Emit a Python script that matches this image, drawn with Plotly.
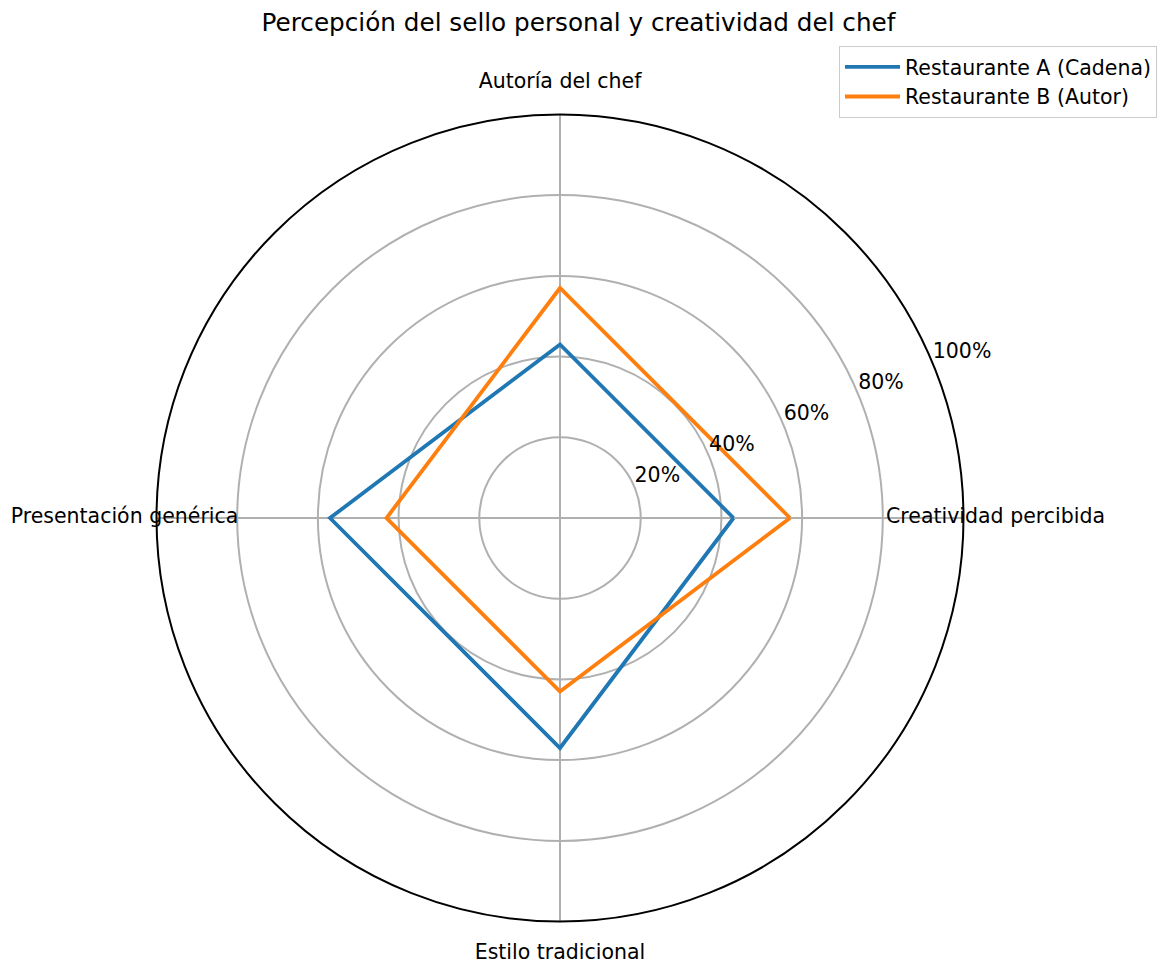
import plotly.graph_objects as go

categories = ["Creatividad percibida", "Autoría del chef", "Presentación genérica", "Estilo tradicional"]
serie_a = [43, 43, 57, 57]
serie_b = [57, 57, 43, 43]
names = ["Restaurante A (Cadena)", "Restaurante B (Autor)"]
colors = ["#1f77b4", "#ff7f0e"]
tick_vals = [20, 40, 60, 80, 100]
tick_text = ["20%", "40%", "60%", "80%", "100%"]

W, H = 1157, 964
cx, cy, R = 560, 518, 403.5
R_LABEL = 435.5          # radius (px) of the ring on which category labels sit
FONT = "DejaVu Sans"
LABEL_SIZE = 20.5
TICK_ANGLE = 22.5        # direction of the radial tick labels (deg)

n = len(categories)
angles = [i * 360 / n for i in range(n)]


def domain(rad):
    return dict(x=[(cx - rad) / W, (cx + rad) / W],
                y=[(H - cy - rad) / H, (H - cy + rad) / H])


fig = go.Figure()
for name, vals, col in zip(names, [serie_a, serie_b], colors):
    fig.add_trace(go.Scatterpolar(
        r=vals + vals[:1], theta=angles + angles[:1],
        mode="lines", name=name, line=dict(color=col, width=3.8),
    ))

# radial tick labels
fig.add_trace(go.Scatterpolar(
    r=tick_vals, theta=[TICK_ANGLE] * len(tick_vals), mode="text", text=tick_text,
    textposition="top right", cliponaxis=False, showlegend=False,
    hoverinfo="skip", textfont=dict(family=FONT, size=LABEL_SIZE, color="black"),
))

# category labels on an invisible, slightly larger concentric polar
fig.add_trace(go.Scatterpolar(
    r=[1] * n, theta=angles, mode="text", text=categories, subplot="polar2",
    textposition="middle center", cliponaxis=False, showlegend=False,
    hoverinfo="skip", textfont=dict(family=FONT, size=LABEL_SIZE, color="black"),
))

hidden_axis = dict(showgrid=False, showline=False, showticklabels=False, ticks="")

fig.update_layout(
    width=W, height=H,
    margin=dict(l=0, r=0, t=0, b=0),
    paper_bgcolor="white",
    font=dict(family=FONT, size=LABEL_SIZE, color="black"),
    title=dict(text="Percepción del sello personal y creatividad del chef",
               x=0.5, xanchor="center", y=1 - 22 / H, yanchor="middle",
               font=dict(size=24.7)),
    polar=dict(
        domain=domain(R),
        bgcolor="white",
        angularaxis=dict(type="linear", rotation=0, direction="counterclockwise",
                         thetaunit="degrees", tickvals=angles,
                         showticklabels=False, ticks="",
                         showline=True, linecolor="black", linewidth=2,
                         gridcolor="#b0b0b0", gridwidth=1.5),
        radialaxis=dict(range=[0, 100], tickvals=tick_vals,
                        showticklabels=False, showline=False, ticks="",
                        gridcolor="#b0b0b0", gridwidth=1.5),
    ),
    polar2=dict(
        domain=domain(R_LABEL),
        bgcolor="rgba(0,0,0,0)",
        angularaxis=dict(type="linear", rotation=0, direction="counterclockwise",
                         thetaunit="degrees", **hidden_axis),
        radialaxis=dict(range=[0, 1], **hidden_axis),
    ),
    legend=dict(x=1, xanchor="right", y=1 - 46 / H, yanchor="top",
                bordercolor="#cccccc", borderwidth=1, bgcolor="white",
                itemwidth=55, font=dict(size=LABEL_SIZE)),
)

fig.write_html("out.html", config={"displayModeBar": False},
               post_script="document.body.style.margin='0';")
